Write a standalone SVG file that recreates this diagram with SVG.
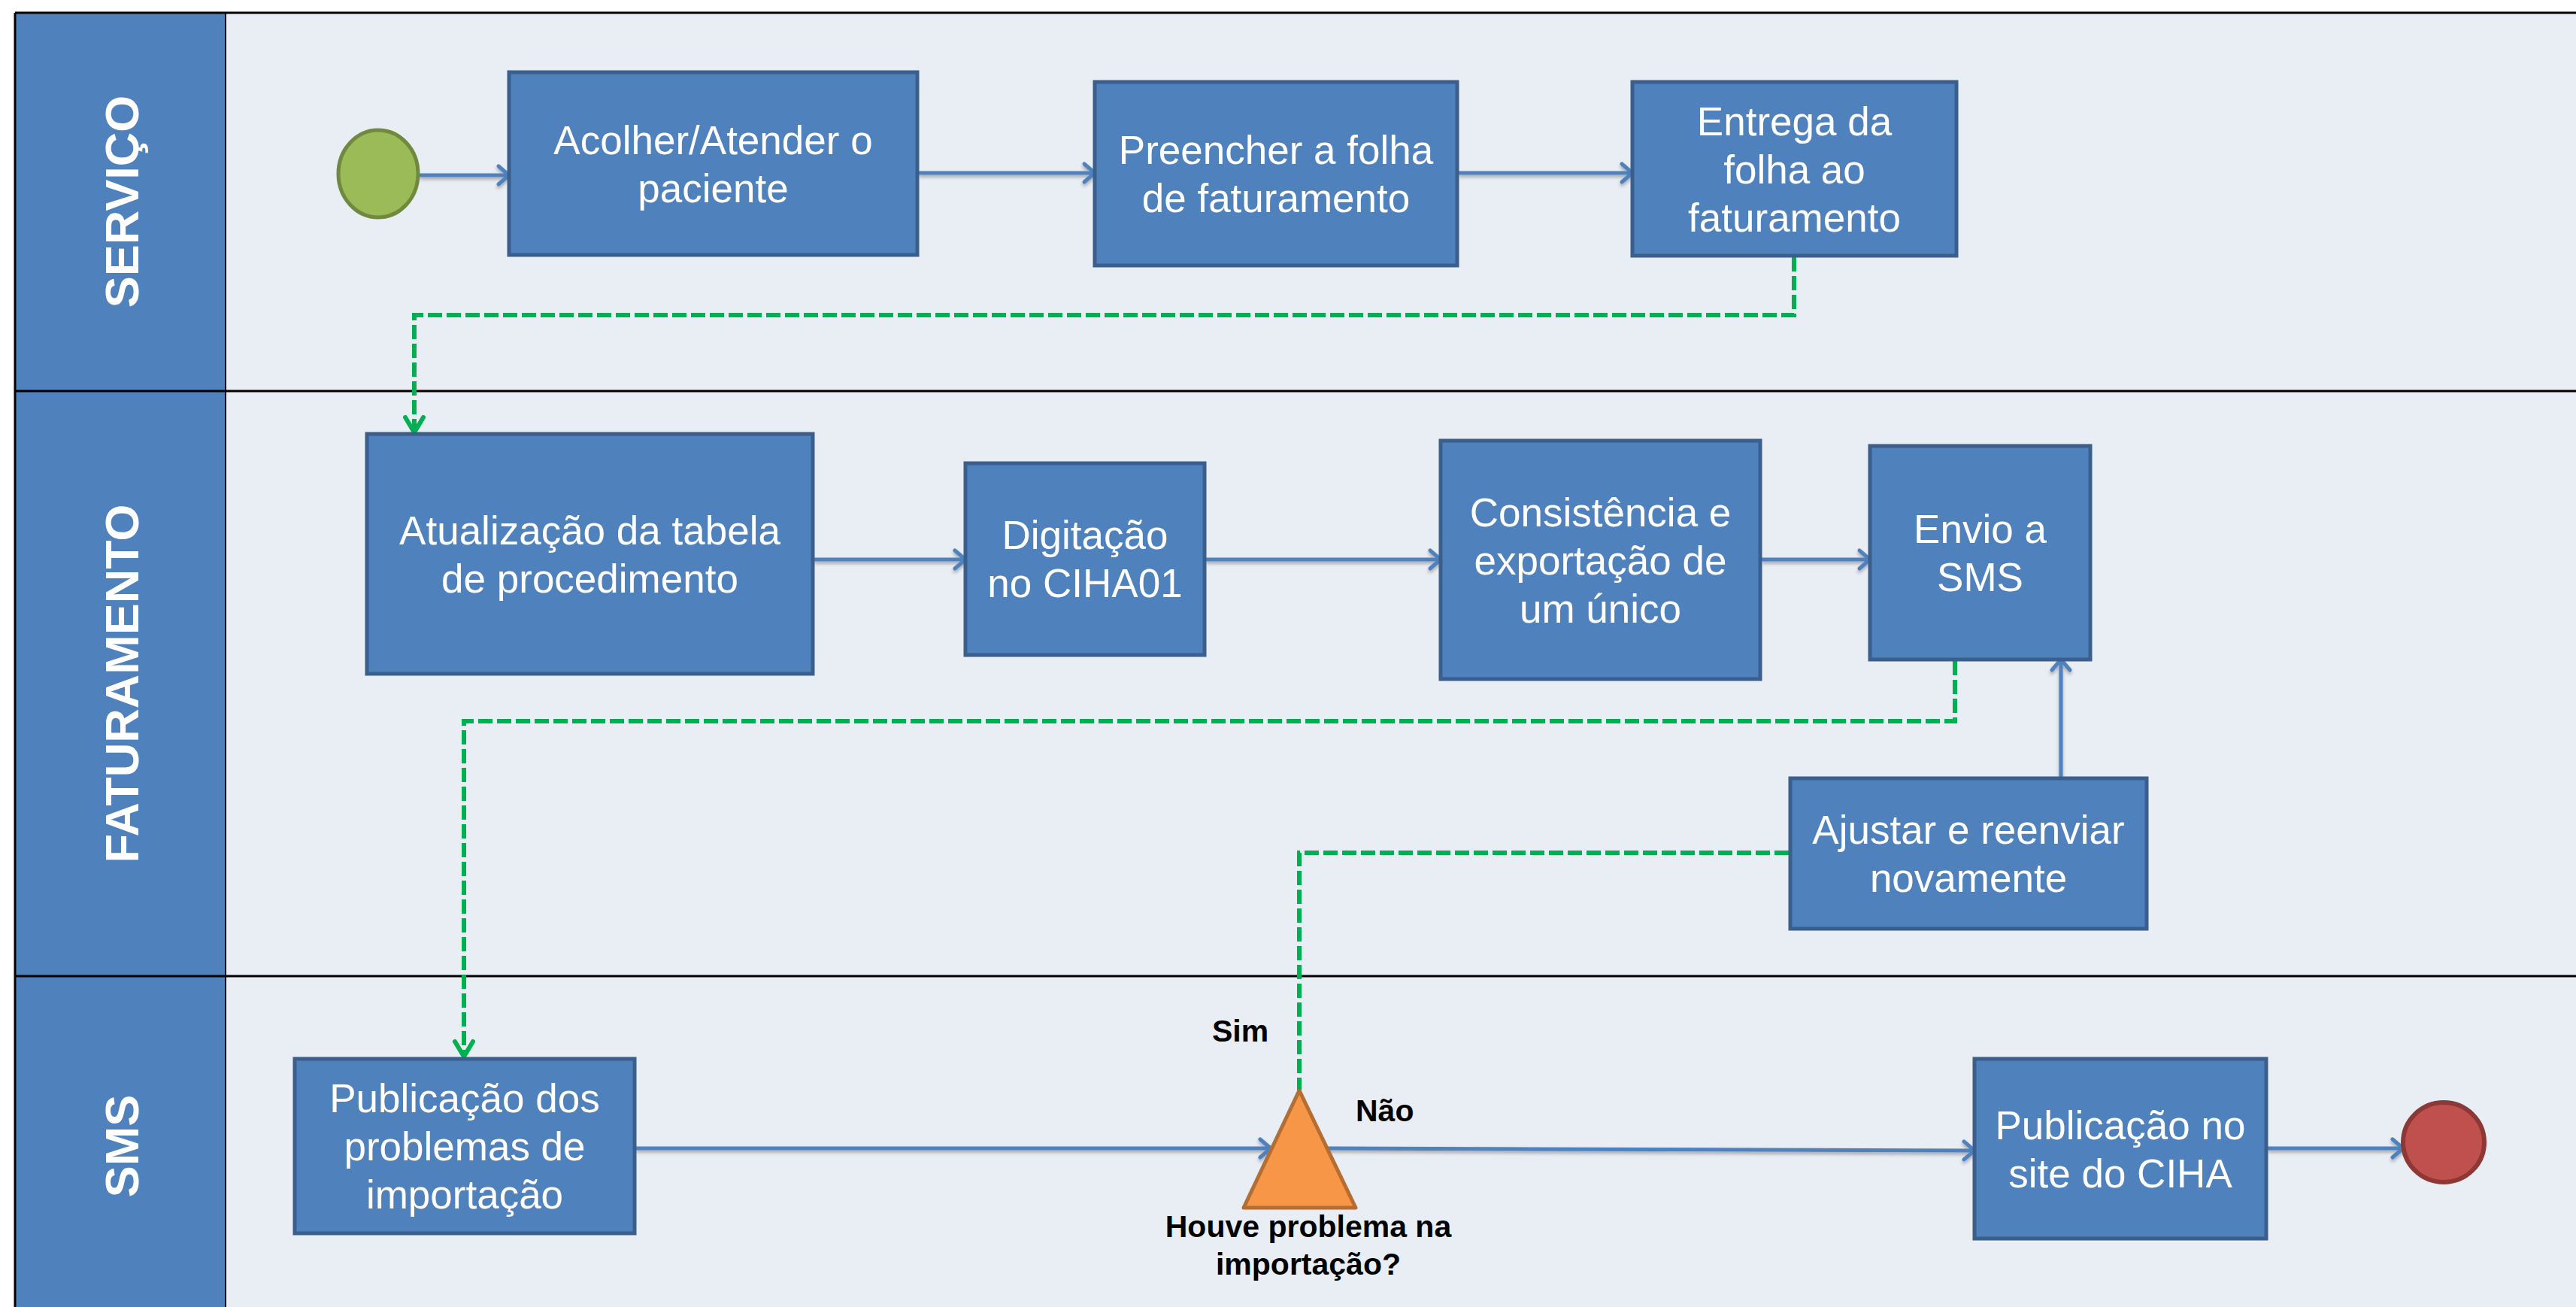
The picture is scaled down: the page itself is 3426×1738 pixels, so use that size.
<svg xmlns="http://www.w3.org/2000/svg" width="3426" height="1738" viewBox="0 0 3426 1738">
<defs>
<style>
.lanehead{fill:#4F81BD;}
.lanebody{fill:#E9EDF4;}
.laneline{stroke:#000;stroke-width:3;fill:none;}
.lanelabel{font-family:"Liberation Sans",Arial,sans-serif;font-weight:bold;font-size:63px;fill:#FFFFFF;text-anchor:middle;}
.box{fill:#4F81BD;stroke:#3A5F8C;stroke-width:5;}
.btext{font-family:"Liberation Sans",Arial,sans-serif;font-size:53px;fill:#FFFFFF;text-anchor:middle;}
.lbl{font-family:"Liberation Sans",Arial,sans-serif;font-weight:bold;font-size:41px;fill:#000000;}
.flow{stroke:#4F81BD;stroke-width:5;fill:none;marker-end:url(#blueArrow);filter:url(#shadow);}
.msg{stroke:#00B050;stroke-width:6;stroke-dasharray:19 6;fill:none;}
</style>
<filter id="shadow" filterUnits="userSpaceOnUse" x="0" y="0" width="3426" height="1738">
<feDropShadow dx="0" dy="3" stdDeviation="2" flood-color="#000000" flood-opacity="0.3"/>
</filter>
<marker id="blueArrow" markerUnits="userSpaceOnUse" viewBox="-4 -4 24 32" refX="14" refY="12" markerWidth="24" markerHeight="32" orient="auto" overflow="visible">
<path d="M0,0 L14,12 L0,24" fill="none" stroke="#4F81BD" stroke-width="5" stroke-linecap="round" stroke-linejoin="round"/>
</marker>
<marker id="greenArrow" markerUnits="userSpaceOnUse" viewBox="-4 -4 28 32" refX="20" refY="12" markerWidth="28" markerHeight="32" orient="auto" overflow="visible">
<path d="M0,0 L20,12 L0,24" fill="none" stroke="#00B050" stroke-width="6" stroke-linecap="round" stroke-linejoin="round"/>
</marker>
</defs>

<rect x="0" y="0" width="3426" height="1738" fill="#FFFFFF"/>

<g id="lanes">
<rect class="lanebody" x="300" y="17" width="3126" height="1721"/>
<rect class="lanehead" x="20" y="17" width="280" height="1721"/>
<line class="laneline" x1="20" y1="17" x2="3426" y2="17"/>
<line class="laneline" x1="20" y1="17" x2="20" y2="1738"/>
<line x1="300" y1="17" x2="300" y2="1738" stroke="#000" stroke-width="2"/>
<line class="laneline" x1="20" y1="520" x2="3426" y2="520"/>
<line class="laneline" x1="20" y1="1298" x2="3426" y2="1298"/>
<text class="lanelabel" transform="translate(184,268) rotate(-90)">SERVIÇO</text>
<text class="lanelabel" transform="translate(184,909) rotate(-90)">FATURAMENTO</text>
<text class="lanelabel" transform="translate(184,1524) rotate(-90)">SMS</text>
</g>

<g id="connectors">
<line class="flow" x1="558" y1="233" x2="677" y2="233"/>
<line class="flow" x1="1222" y1="230" x2="1456" y2="230"/>
<line class="flow" x1="1940" y1="230" x2="2171" y2="230"/>
<line class="flow" x1="1083" y1="744" x2="1284" y2="744"/>
<line class="flow" x1="1604" y1="744" x2="1916" y2="744"/>
<line class="flow" x1="2343" y1="744" x2="2487" y2="744"/>
<line class="flow" x1="2741" y1="1033" x2="2741" y2="877"/>
<line class="flow" x1="846" y1="1527" x2="1690" y2="1527"/>
<line class="flow" x1="1765" y1="1527" x2="2626" y2="1530"/>
<line class="flow" x1="3016" y1="1527" x2="3196" y2="1527"/>
<polyline class="msg" points="2386,342 2386,419 551,419 551,575" marker-end="url(#greenArrow)"/>
<polyline class="msg" points="2600,879 2600,959 617,959 617,1405" marker-end="url(#greenArrow)"/>
<polyline class="msg" points="2379,1134 1728,1134 1728,1450"/>
</g>

<g id="start">
<ellipse cx="503" cy="231" rx="53" ry="58" fill="#9BBB59" stroke="#71893F" stroke-width="5"/>
</g>

<g id="acolher">
<rect class="box" x="677" y="96" width="543" height="243"/>
<text class="btext" x="948.5" y="205">Acolher/Atender o</text>
<text class="btext" x="948.5" y="269">paciente</text>
</g>

<g id="preencher">
<rect class="box" x="1456" y="109" width="482" height="244"/>
<text class="btext" x="1697" y="218">Preencher a folha</text>
<text class="btext" x="1697" y="282">de faturamento</text>
</g>

<g id="entrega">
<rect class="box" x="2171" y="109" width="431" height="231"/>
<text class="btext" x="2386.5" y="179.5">Entrega da</text>
<text class="btext" x="2386.5" y="243.5">folha ao</text>
<text class="btext" x="2386.5" y="307.5">faturamento</text>
</g>

<g id="atualizacao">
<rect class="box" x="488" y="577" width="593" height="319"/>
<text class="btext" x="784.5" y="724">Atualização da tabela</text>
<text class="btext" x="784.5" y="788">de procedimento</text>
</g>

<g id="digitacao">
<rect class="box" x="1284" y="616" width="318" height="255"/>
<text class="btext" x="1443" y="730">Digitação</text>
<text class="btext" x="1443" y="794">no CIHA01</text>
</g>

<g id="consistencia">
<rect class="box" x="1916" y="586" width="425" height="317"/>
<text class="btext" x="2128.5" y="699.5">Consistência e</text>
<text class="btext" x="2128.5" y="763.5">exportação de</text>
<text class="btext" x="2128.5" y="827.5">um único</text>
</g>

<g id="envio">
<rect class="box" x="2487" y="593" width="293" height="284"/>
<text class="btext" x="2633.5" y="722">Envio a</text>
<text class="btext" x="2633.5" y="786">SMS</text>
</g>

<g id="ajustar">
<rect class="box" x="2381" y="1035" width="474" height="200"/>
<text class="btext" x="2618" y="1122">Ajustar e reenviar</text>
<text class="btext" x="2618" y="1186">novamente</text>
</g>

<g id="publicacao-problemas">
<rect class="box" x="392" y="1408" width="452" height="232"/>
<text class="btext" x="618" y="1479">Publicação dos</text>
<text class="btext" x="618" y="1543">problemas de</text>
<text class="btext" x="618" y="1607">importação</text>
</g>

<g id="decisao">
<polygon points="1728,1450 1803,1606 1654,1606" fill="#F79646" stroke="#B66D31" stroke-width="5" stroke-linejoin="round"/>
<text class="lbl" x="1740" y="1645" text-anchor="middle">Houve problema na</text>
<text class="lbl" x="1740" y="1695" text-anchor="middle">importação?</text>
<text class="lbl" x="1612" y="1385">Sim</text>
<text class="lbl" x="1803" y="1491">Não</text>
</g>

<g id="publicacao-site">
<rect class="box" x="2626" y="1408" width="388" height="239"/>
<text class="btext" x="2820" y="1514.5">Publicação no</text>
<text class="btext" x="2820" y="1578.5">site do CIHA</text>
</g>

<g id="end">
<ellipse cx="3250" cy="1519" rx="54" ry="53" fill="#C0504D" stroke="#8C3836" stroke-width="6"/>
</g>
</svg>
